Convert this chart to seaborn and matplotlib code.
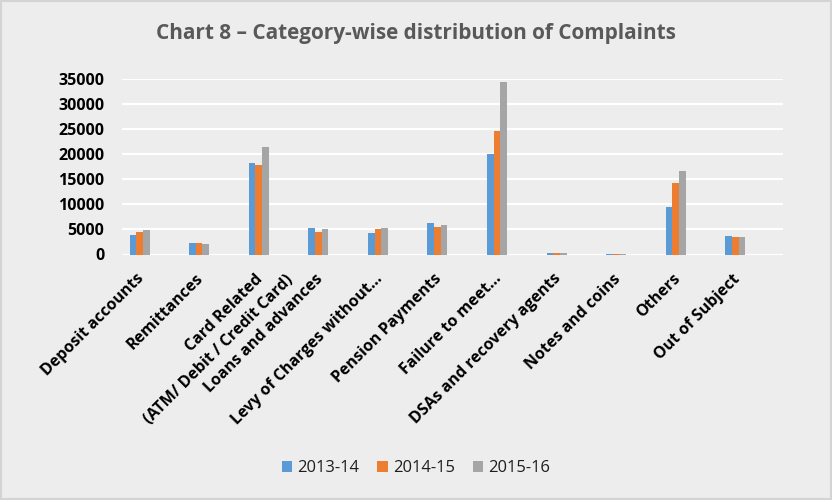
import pandas as pd
import matplotlib.pyplot as plt
import matplotlib.transforms as mtransforms
import seaborn as sns

categories = ['Deposit accounts', 'Remittances', 'Card Related\n(ATM/ Debit / Credit Card)',
              'Loans and advances', 'Levy of Charges without...', 'Pension Payments',
              'Failure to meet...', 'DSAs and recovery agents', 'Notes and coins',
              'Others', 'Out of Subject']
years = ['2013-14', '2014-15', '2015-16']
v_2013 = [3800, 2200, 18200, 5200, 4200, 6200, 20000, 300, 100, 9500, 3700]
v_2014 = [4400, 2250, 17800, 4500, 5100, 5400, 24600, 350, 100, 14200, 3400]
v_2015 = [4850, 2050, 21400, 5000, 5300, 5900, 34500, 350, 100, 16600, 3450]

df = pd.DataFrame({'category': categories * 3,
                   'year': [years[0]] * 11 + [years[1]] * 11 + [years[2]] * 11,
                   'count': v_2013 + v_2014 + v_2015})

bg = '#EDEDED'
sns.set_theme(style='white')
plt.rcParams['font.family'] = ['Open Sans', 'DejaVu Sans']

fig = plt.figure(figsize=(8.32, 5.0), dpi=100, facecolor=bg)
fig.patches.append(plt.Rectangle((0, 0), 1, 1, transform=fig.transFigure, fill=False,
                                 edgecolor='#D4D4D4', linewidth=3))
renderer = fig.canvas.get_renderer()


# pick a font size so a string comes out about target_px wide
def fit_size(s, target_px, **kw):
    t = fig.text(0, 0, s, fontsize=10, **kw)
    w = t.get_window_extent(renderer).width
    t.remove()
    return 10 * target_px / w


title_fs = fit_size('Chart 8 \u2013 Category-wise distribution of Complaints', 522, fontweight='bold')
ytick_fs = fit_size('35000', 46, fontweight='bold')
xtick_fs = fit_size('Deposit accounts', 138, fontweight='bold')
leg_fs = fit_size('2013-14', 62)

ax = fig.add_axes([122 / 832, 1 - 254.5 / 500, (783 - 122) / 832, (254.5 - 79) / 500])
ax.set_facecolor(bg)

palette = ['#5B9BD5', '#ED7D31', '#A5A5A5']
sns.barplot(data=df, x='category', y='count', hue='year', palette=palette,
            width=0.336, ax=ax, saturation=1, edgecolor='none')

ax.set_xlim(-0.294, 10.8)
ax.set_ylim(0, 35000)
ax.yaxis.grid(True, color='white', linewidth=1.6)
ax.set_axisbelow(True)
for s in ax.spines.values():
    s.set_visible(False)
ax.set_xlabel('')
ax.set_ylabel('')
ax.tick_params(axis='both', length=0)
ax.set_yticks(range(0, 35001, 5000))
ax.set_yticklabels([str(t) for t in range(0, 35001, 5000)], fontsize=ytick_fs,
                   fontweight='bold', color='black')
ax.tick_params(axis='y', pad=17.5 * 0.72)

# category labels: right end of each (first) line sits just under its bar group
ax.set_xticks(range(len(categories)))
ax.set_xticklabels([])
xt = ax.get_xaxis_transform()
for i, cat in enumerate(categories):
    lines = cat.split('\n')
    for j, line in enumerate(lines):
        dx, dy = 2 + 30 * j, -22 - 1.5 * j
        off = mtransforms.ScaledTranslation(dx / 100, dy / 100, fig.dpi_scale_trans)
        ax.text(i, 0, line, transform=xt + off, rotation=45, rotation_mode='anchor',
                ha='right', va='center', fontsize=xtick_fs, fontweight='bold', color='black')

fig.text(0.5, 1 - 33 / 500, 'Chart 8 \u2013 Category-wise distribution of Complaints',
         ha='center', va='center', fontsize=title_fs, fontweight='bold', color='#595959')

fs_px = leg_fs / 72 * 100
ax.legend(loc='center', bbox_to_anchor=(0.5, 1 - 468 / 500), bbox_transform=fig.transFigure,
          ncol=3, frameon=False, fontsize=leg_fs, handlelength=10.5 / fs_px,
          handleheight=10.5 / fs_px, columnspacing=18 / fs_px, handletextpad=5 / fs_px,
          labelcolor='#1E1E1E')

fig.savefig('out.png', dpi=100, facecolor=bg)
